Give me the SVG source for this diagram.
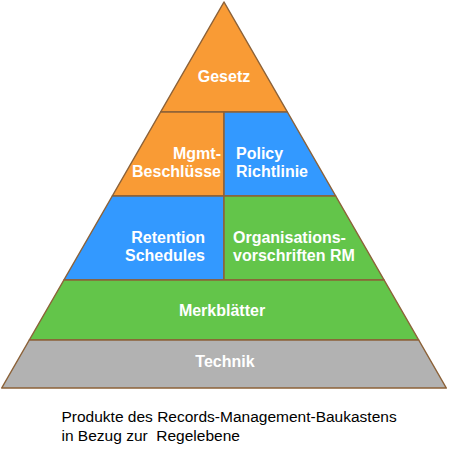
<svg xmlns="http://www.w3.org/2000/svg" width="449" height="454" viewBox="0 0 449 454">
<style>
.s{stroke:#8C6239;stroke-width:1.5;stroke-linejoin:round}
.o{fill:#F99B35}.b{fill:#3399FF}.g{fill:#63C54A}.y{fill:#B2B2B2}
.t{font-family:"Liberation Sans",Arial,sans-serif;font-weight:bold;font-size:16px;fill:#FFFFFF}
.c{font-family:"Liberation Sans",Arial,sans-serif;font-size:15.5px;fill:#000000;white-space:pre}
</style>
<rect width="449" height="454" fill="#FFFFFF"/>
<g id="gesetz">
<polygon class="s o" points="224,2 287.4,112 160.6,112"/>
<text class="t" x="224" y="81.5" text-anchor="middle">Gesetz</text>
</g>
<g id="mgmt">
<polygon class="s o" points="160.6,112 224,112 224,196 112.3,196"/>
<text class="t" x="221" y="158.5" text-anchor="end">Mgmt-</text>
<text class="t" x="221" y="177" text-anchor="end">Beschlüsse</text>
</g>
<g id="policy">
<polygon class="s b" points="224,112 287.4,112 335.7,196 224,196"/>
<text class="t" x="236" y="158.5">Policy</text>
<text class="t" x="236" y="177">Richtlinie</text>
</g>
<g id="retention">
<polygon class="s b" points="112.3,196 224,196 224,280 63.9,280"/>
<text class="t" x="205" y="242.5" text-anchor="end">Retention</text>
<text class="t" x="205" y="261" text-anchor="end">Schedules</text>
</g>
<g id="organisation">
<polygon class="s g" points="224,196 335.7,196 384.1,280 224,280"/>
<text class="t" x="233" y="242.5">Organisations-</text>
<text class="t" x="233" y="261">vorschriften RM</text>
</g>
<g id="merkblaetter">
<polygon class="s g" points="63.9,280 384.1,280 418.7,340 29.3,340"/>
<text class="t" x="222" y="316" text-anchor="middle">Merkblätter</text>
</g>
<g id="technik">
<polygon class="s y" points="29.3,340 418.7,340 446.3,388 1.7,388"/>
<text class="t" x="225" y="367" text-anchor="middle">Technik</text>
</g>
<g id="caption">
<text class="c" x="61.5" y="422">Produkte des Records-Management-Baukastens</text>
<text class="c" x="61.5" y="440.5">in Bezug zur  Regelebene</text>
</g>
</svg>
